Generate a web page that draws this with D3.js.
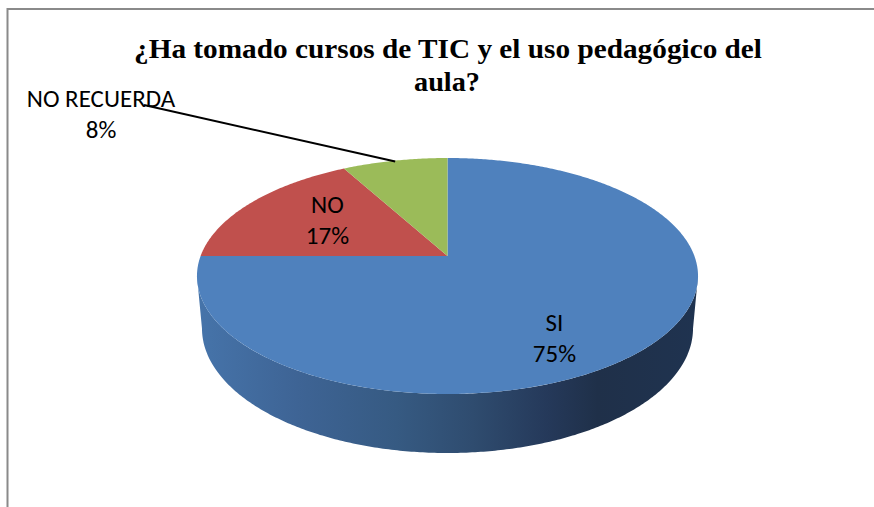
<!DOCTYPE html>
<html>
<head>
<meta charset="utf-8">
<script src="https://cdn.jsdelivr.net/npm/d3@7"></script>
<style>
  html, body { margin: 0; padding: 0; background: #ffffff; }
  svg { display: block; }
  .title { font-family: "Liberation Serif", "Times New Roman", Times, serif; font-weight: bold; }
  .lbl { font-family: Carlito, Calibri, "Open Sans", sans-serif; }
</style>
</head>
<body>
<svg id="chart" width="874" height="507"></svg>
<script>
// ---------- data ----------
const categories = ["SI", "NO", "NO RECUERDA"];
const values = [75, 17, 8];
const percentLabels = ["75%", "17%", "8%"];
const titleLines = ["¿Ha tomado cursos de TIC y el uso pedagógico del", "aula?"];

// ---------- styles / layout ----------
const colors = ["#4f81bd", "#c0504d", "#9bbb59"];
const W = 874, H = 507;
const cx = 447.5, cy = 256;      // projected pie centre
const A = 246.9, B = 114.6;      // projected radii factors
const k = 0.1695;                // perspective strength
const sb = 0.98, depth = 51.3;   // bottom face scale and thickness

const svg = d3.select("#chart");

// frame
svg.append("line").attr("x1", 7).attr("y1", 9).attr("x2", W).attr("y2", 9)
  .attr("stroke", "#8a8a8a").attr("stroke-width", 2);
svg.append("line").attr("x1", 7.5).attr("y1", 8).attr("x2", 7.5).attr("y2", H)
  .attr("stroke", "#8a8a8a").attr("stroke-width", 2);

// title
const title = svg.append("text").attr("class", "title")
  .attr("font-size", 28).attr("fill", "#000").attr("text-anchor", "middle");
title.append("tspan").attr("x", 448).attr("y", 58).attr("textLength", 628)
  .attr("lengthAdjust", "spacingAndGlyphs").text(titleLines[0]);
title.append("tspan").attr("x", 447).attr("y", 91).attr("textLength", 66)
  .attr("lengthAdjust", "spacingAndGlyphs").text(titleLines[1]);

// ---------- projection ----------
const uv = a => [Math.sin(a), -Math.cos(a)]; // d3 pie angle -> unit circle (v>0 = front)
function projTop(a, r = 1) {
  const [u, v] = uv(a); const w = 1 - k * v * r;
  return [cx + A * u * r / w, cy + B * v * r / w];
}
function projBot(a, r = 1) {
  const [u, v] = uv(a); const w = 1 - k * v * r;
  return [cx + sb * A * u * r / w, cy + (sb * B * v * r + depth) / w];
}

const pie = d3.pie().sort(null).value(d => d)
  .startAngle(0).endAngle(2 * Math.PI);
const arcs = pie(values);

function sample(a0, a1) {
  const n = Math.max(2, Math.ceil(Math.abs(a1 - a0) / 0.01));
  return d3.range(n + 1).map(i => a0 + (a1 - a0) * i / n);
}

// side gradient
const defs = svg.append("defs");
const grad = defs.append("linearGradient").attr("id", "sideGrad")
  .attr("gradientUnits", "userSpaceOnUse")
  .attr("x1", cx - A / Math.sqrt(1 - k * k)).attr("x2", cx + A / Math.sqrt(1 - k * k))
  .attr("y1", 0).attr("y2", 0);
[[0, "#4674aa"], [0.2, "#3e6495"], [0.4, "#365a82"], [0.55, "#2f4c6f"],
 [0.7, "#25395a"], [0.8, "#1f3049"], [1, "#1f3350"]]
  .forEach(([o, c]) => grad.append("stop").attr("offset", o).attr("stop-color", c));

// visible front range of the rim
const visA0 = Math.PI / 2 + Math.asin(k), visA1 = 1.5 * Math.PI - Math.asin(k);
const line = d3.line();

arcs.forEach((d, i) => {
  const a0 = Math.max(d.startAngle, visA0), a1 = Math.min(d.endAngle, visA1);
  if (a1 <= a0) return;
  const top = sample(a0, a1).map(a => projTop(a));
  const bot = sample(a0, a1).map(a => projBot(a)).reverse();
  svg.append("path").attr("d", line(top.concat(bot)) + "Z")
    .attr("fill", i === 0 ? "url(#sideGrad)" : d3.color(colors[i]).darker(1.2));
});

// top faces
arcs.forEach((d, i) => {
  const pts = [[cx, cy]].concat(sample(d.startAngle, d.endAngle).map(a => projTop(a)));
  svg.append("path").attr("d", line(pts) + "Z").attr("fill", colors[i]);
});

// ---------- labels ----------
const labelSize = 25;
// inner label placement: radial fraction + nudges (layout)
const labelLayout = [
  { r: 0.62, dx: -10, dy: 26 },
  { r: 0.62, dx: 5, dy: -4 },
  null
];
arcs.forEach((d, i) => {
  const mid = (d.startAngle + d.endAngle) / 2;
  const L = labelLayout[i];
  if (L) {
    const [x, y] = projTop(mid, L.r);
    const t = svg.append("text").attr("class", "lbl").attr("font-size", labelSize)
      .attr("fill", "#000").attr("text-anchor", "middle");
    t.append("tspan").attr("x", x + L.dx).attr("y", y + L.dy - 5).text(categories[i]);
    t.append("tspan").attr("x", x + L.dx).attr("y", y + L.dy + 26).text(percentLabels[i]);
  } else {
    // outside label with leader line
    const [ex, ey] = projTop(mid, 0.99);
    svg.append("line").attr("x1", 144).attr("y1", 105).attr("x2", ex).attr("y2", ey)
      .attr("stroke", "#000").attr("stroke-width", 2);
    const t = svg.append("text").attr("class", "lbl").attr("font-size", labelSize)
      .attr("fill", "#000").attr("text-anchor", "middle");
    t.append("tspan").attr("x", 101).attr("y", 106.5).text(categories[i]);
    t.append("tspan").attr("x", 101).attr("y", 137.5).text(percentLabels[i]);
  }
});
</script>
</body>
</html>
